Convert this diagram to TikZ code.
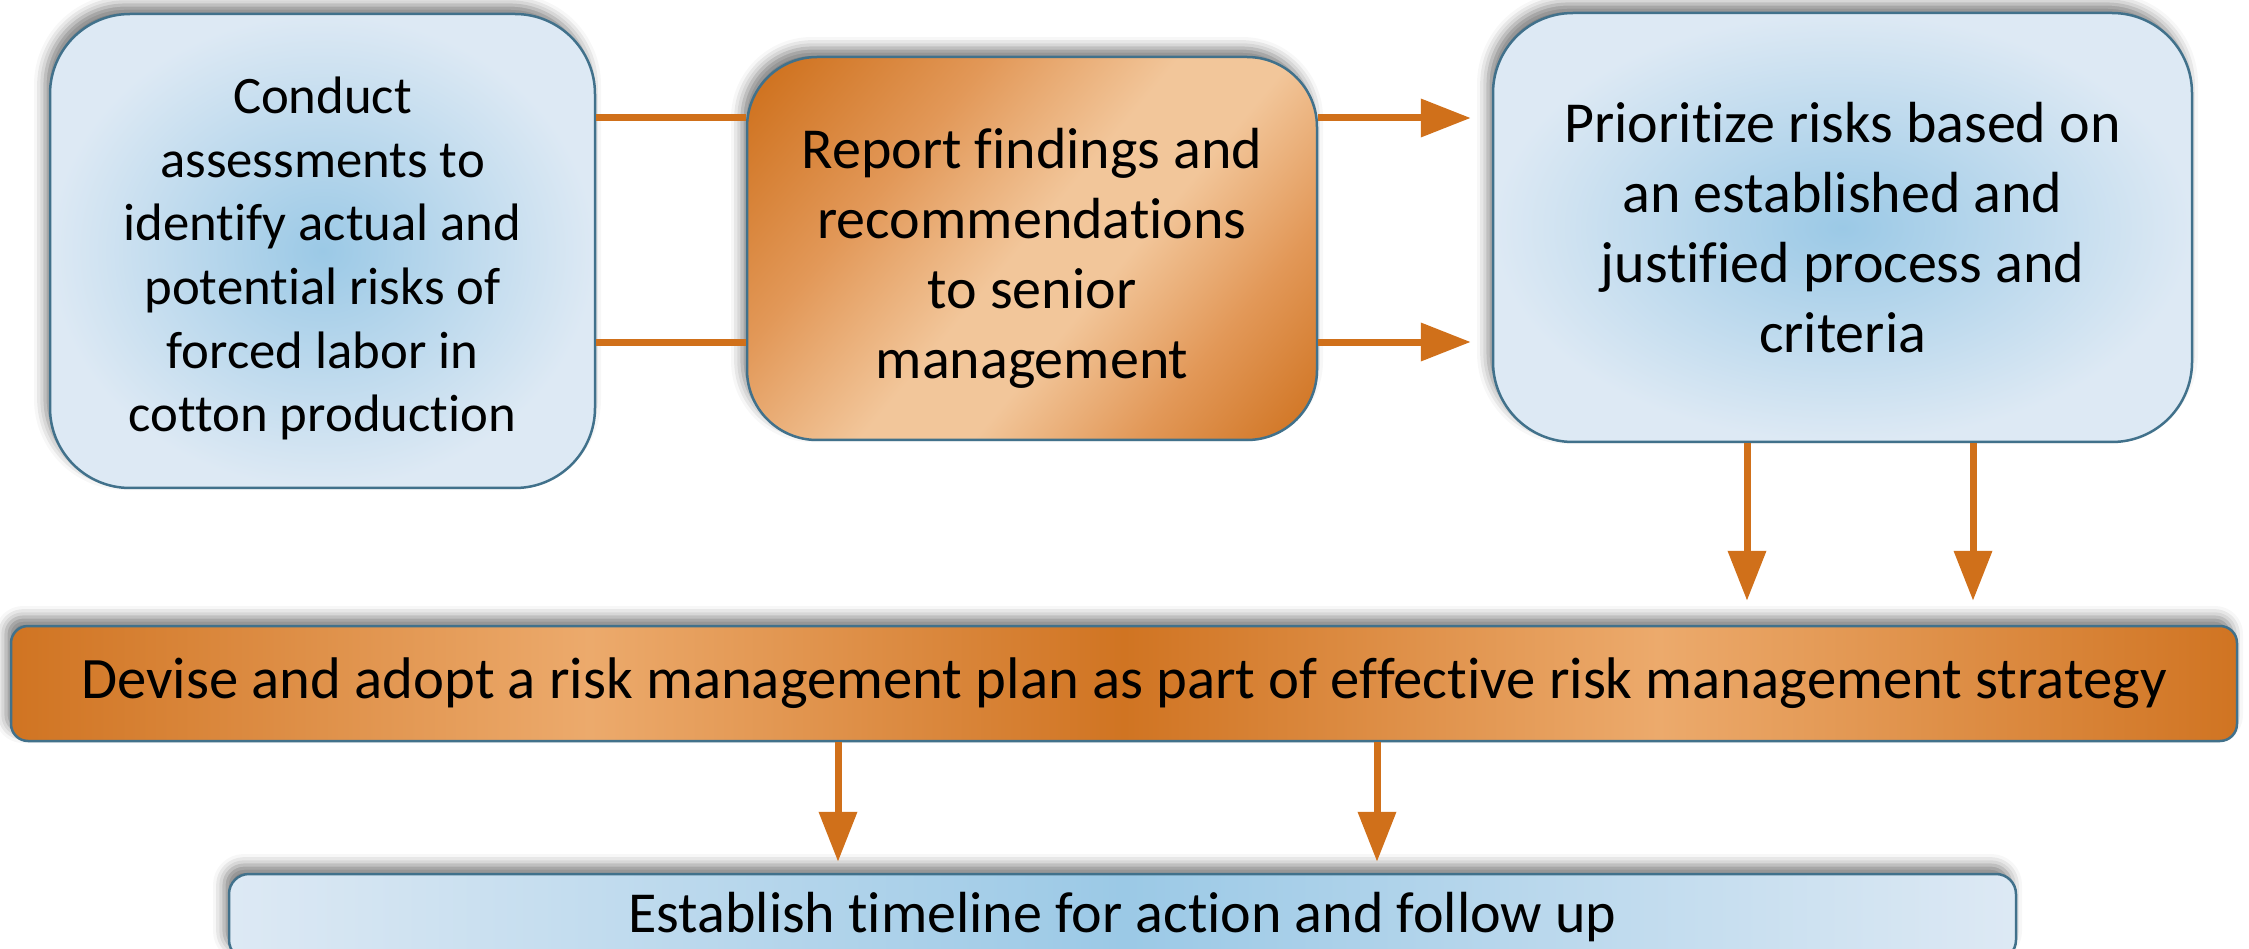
\documentclass[tikz,border=0pt]{standalone}
\usepackage{fontspec}
\setmainfont{Carlito}[Ligatures={NoCommon,NoContextual}]
\usetikzlibrary{positioning,arrows.meta,shadows.blur}

\definecolor{boxline}{RGB}{65,113,139}
\definecolor{arrowc}{RGB}{208,112,26}
\definecolor{bluein}{RGB}{155,201,230}
\definecolor{blueout}{RGB}{221,233,244}
\definecolor{orgdark}{RGB}{208,116,34}
\definecolor{orgmid}{RGB}{226,152,88}
\definecolor{orglight}{RGB}{242,198,154}
\definecolor{orgpale}{RGB}{236,170,108}

\pgfdeclarehorizontalshading{reportshade}{100bp}{color(0bp)=(orgdark); color(18bp)=(orgdark); color(34bp)=(orgmid); color(49bp)=(orglight); color(58bp)=(orglight); color(71bp)=(orgmid); color(84bp)=(orgdark); color(100bp)=(orgdark)}
\pgfdeclarehorizontalshading{planshade}{100bp}{color(0bp)=(orgdark); color(25bp)=(orgdark); color(38bp)=(orgpale); color(50bp)=(orgdark); color(62bp)=(orgpale); color(75bp)=(orgdark); color(100bp)=(orgdark)}

\begin{document}
\begin{tikzpicture}[x=0.1mm, y=-0.1mm, >=Triangle]
    % Styles
    \tikzstyle{box}=[rectangle, draw=boxline, line width=0.25mm, align=center, inner sep=0pt,
        blur shadow={shadow xshift=-0.5mm, shadow yshift=0.9mm, shadow blur radius=1.1mm, shadow opacity=50}]
    \tikzstyle{bluebox}=[box, inner color=bluein, outer color=blueout]
    \tikzstyle{orangebox}=[box]
    \tikzstyle{flow}=[draw=arrowc, line width=0.7mm, -{Triangle[length=5mm, width=3.7mm]}]
    \tikzstyle{link}=[draw=arrowc, line width=0.7mm]

    \useasboundingbox (0,0) rectangle (2249,949);
    \clip (0,0) rectangle (2249,949);

    % Top row
    \node (assess) [bluebox, rounded corners=8mm, minimum width=54.5mm, minimum height=47.4mm,
        font=\fontsize{15}{18.1}\selectfont] at (322.5,251)
        {\rule{0pt}{5.2mm}Conduct\\assessments to\\identify actual and\\potential risks of\\forced labor in\\cotton production};
    \node (report) [orangebox, shading=reportshade, shading angle=-40, rounded corners=7mm,
        minimum width=57mm, minimum height=38.3mm, font=\fontsize{16.5}{19.9}\selectfont] at (1032,248.5)
        {\rule{0pt}{6mm}Report findings and\\recommendations\\to senior\\management};
    \node (prior) [bluebox, rounded corners=8mm, minimum width=69.9mm, minimum height=42.9mm,
        font=\fontsize{16.5}{19.9}\selectfont] at (1842.5,227.5)
        {Prioritize risks based on\\an established and\\justified process and\\criteria};

    % Wide rows
    \node (plan) [orangebox, shading=planshade, rounded corners=1.7mm, minimum width=222.6mm,
        minimum height=11.5mm, font=\fontsize{16.7}{19.9}\selectfont] at (1124,683.5)
        {Devise and adopt a risk management plan as part of effective risk management strategy};
    \node (timeline) [box, left color=blueout, right color=blueout, middle color=bluein,
        rounded corners=2mm, minimum width=178.7mm, minimum height=8.6mm,
        font=\fontsize{16.5}{19.9}\selectfont] at (1122.5,917)
        {Establish timeline for action and follow up};

    % Connectors
    \draw[link] (assess.east |- 0,118) -- (report.west |- 0,118);
    \draw[link] (assess.east |- 0,342) -- (report.west |- 0,342);
    \draw[flow, shorten >=2.1mm] (report.east |- 0,118) -- (prior.west |- 0,118);
    \draw[flow, shorten >=2.1mm] (report.east |- 0,342) -- (prior.west |- 0,342);
    \draw[flow, shorten >=2.4mm] (prior.south -| 1747,0) -- (plan.north -| 1747,0);
    \draw[flow, shorten >=2.4mm] (prior.south -| 1973,0) -- (plan.north -| 1973,0);
    \draw[flow, shorten >=1.1mm] (plan.south -| 838,0) -- (timeline.north -| 838,0);
    \draw[flow, shorten >=1.1mm] (plan.south -| 1377,0) -- (timeline.north -| 1377,0);

\end{tikzpicture}
\end{document}
